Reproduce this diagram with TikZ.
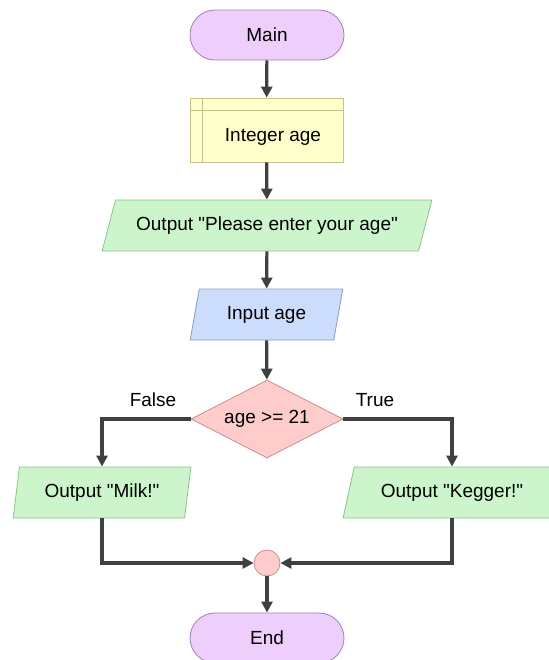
\documentclass[tikz,border=0pt]{standalone}
\usepackage{fontspec}
\setmainfont{Liberation Sans}[Ligatures=TeXOff]
\usetikzlibrary{shapes.geometric,arrows.meta,positioning}

\definecolor{termfill}{HTML}{EECFFC}
\definecolor{termline}{HTML}{A47DB8}
\definecolor{declfill}{HTML}{FFFFCC}
\definecolor{declline}{HTML}{C8C28A}
\definecolor{outfill}{HTML}{CDF5CB}
\definecolor{outline}{HTML}{8FC18C}
\definecolor{infill}{HTML}{CCDCFC}
\definecolor{inline}{HTML}{8A9BBE}
\definecolor{decfill}{HTML}{FFCCCC}
\definecolor{decline}{HTML}{C98E8E}
\definecolor{linegray}{HTML}{404040}

\begin{document}
\begin{tikzpicture}[
    x=1pt, y=1pt,
    font=\fontsize{19}{22}\selectfont,
    term/.style={rectangle, draw=termline, fill=termfill, rounded corners=25pt, minimum width=154pt, minimum height=50pt, line width=0.8pt},
    decl/.style={rectangle, draw=declline, fill=declfill, minimum width=153pt, minimum height=64pt, line width=0.8pt},
    io/.style={trapezium, trapezium stretches=true, draw=outline, fill=outfill, minimum height=51pt, inner sep=0pt, line width=0.8pt},
    decision/.style={diamond, draw=decline, fill=decfill, aspect=1.95, minimum width=152pt, minimum height=78pt, inner sep=0pt, line width=0.8pt},
    merge/.style={circle, draw=decline, fill=decfill, minimum size=26pt, inner sep=0pt, line width=0.8pt},
    arrow/.style={-{Triangle[length=11pt,width=11pt]}, line width=3.2pt, draw=linegray}
]

\useasboundingbox (0,0) rectangle (548,-660);

% Main column
\node[term] (main) at (267,-35) {Main};
\node[decl] (intage) at (266.5,-130) {};
\draw[declline, line width=0.8pt] ([yshift=-13pt]intage.north west) -- ([yshift=-13pt]intage.north east);
\draw[declline, line width=0.8pt] ([xshift=13pt]intage.north west) -- ([xshift=13pt]intage.south west);
\node (intagetext) at (273,-136.5) {Integer age};

\node[io, minimum width=330pt, trapezium left angle=57, trapezium right angle=123] (please) at (267,-225.5) {Output "Please enter your age"};
\node[io, fill=infill, draw=inline, minimum width=153pt, trapezium left angle=72.6, trapezium right angle=107.4] (inage) at (266.5,-314.5) {Input age};
\node[decision] (test) at (267,-419) {age >= 21};

% Branches
\node[io, minimum width=178pt, trapezium left angle=76, trapezium right angle=104] (milk) at (102,-492.5) {Output "Milk!"};
\node[io, minimum width=218pt, trapezium left angle=64.8, trapezium right angle=115.2] (kegger) at (452,-492.5) {Output "Kegger!"};
\node (falselbl) at (153,-400) {False};
\node (truelbl) at (375,-400) {True};

\node[merge] (join) at (267,-563) {};
\node[term] (endnode) at (267,-638) {End};

% Arrows
\draw[arrow] (main) -- (intage);
\draw[arrow] (intage) -- (please);
\draw[arrow] (please) -- (inage);
\draw[arrow] (inage) -- (test);
\draw[arrow] (test.west) -| (milk);
\draw[arrow] (test.east) -| (kegger);
\draw[arrow] (milk) |- (join);
\draw[arrow] (kegger) |- (join);
\draw[arrow] (join) -- (endnode);

\end{tikzpicture}
\end{document}
